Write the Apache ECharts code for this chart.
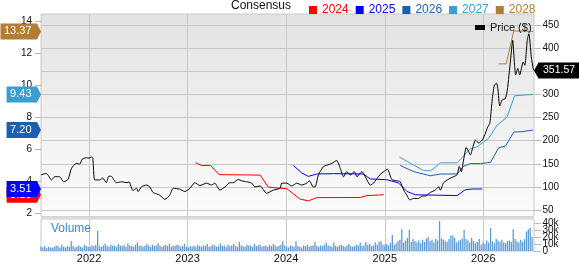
<!DOCTYPE html>
<html><head><meta charset="utf-8">
<script src="https://cdn.jsdelivr.net/npm/echarts@6/dist/echarts.min.js"></script>
<style>html,body{margin:0;padding:0;background:#fff}#c{width:579px;height:264px}</style>
</head><body><div id="c"></div><script>
// ---------- data ----------
const priceDates = ['2021-07-07','2021-07-27','2021-08-15','2021-08-27','2021-09-14','2021-09-29','2021-10-15','2021-10-28','2021-11-15','2021-11-27','2021-12-07','2021-12-22',
'2022-01-01','2022-01-09','2022-01-15','2022-01-22','2022-02-09','2022-02-21','2022-03-06','2022-03-15','2022-03-24','2022-04-12','2022-05-01','2022-05-22','2022-05-29','2022-06-13','2022-06-26','2022-07-02','2022-07-14','2022-08-02','2022-08-14','2022-08-26','2022-09-08','2022-09-20','2022-10-09','2022-10-27','2022-11-09','2022-12-03','2022-12-22',
'2023-01-10','2023-01-28','2023-02-16','2023-03-13','2023-03-31','2023-04-12','2023-05-01','2023-05-20','2023-06-07','2023-06-19','2023-07-08','2023-07-21','2023-08-08','2023-08-27','2023-09-08','2023-09-27','2023-10-21','2023-11-15','2023-12-10','2023-12-16',
'2024-01-04','2024-01-22','2024-02-10','2024-02-28','2024-03-18','2024-03-28','2024-04-11','2024-04-18','2024-04-30','2024-05-19','2024-06-01','2024-06-19','2024-07-07','2024-07-20','2024-08-01','2024-08-13','2024-08-26','2024-09-10','2024-09-20','2024-10-08','2024-10-27','2024-11-08','2024-11-20','2024-12-15','2024-12-28',
'2025-01-11','2025-01-27','2025-02-15','2025-02-27','2025-03-12','2025-03-24','2025-04-03','2025-04-18','2025-05-06','2025-05-19','2025-05-31','2025-06-19','2025-07-07','2025-07-20','2025-07-26','2025-08-07','2025-09-01','2025-09-13','2025-09-26','2025-10-04','2025-10-12','2025-10-20','2025-10-30','2025-11-08','2025-11-14','2025-11-24','2025-12-03','2025-12-15','2025-12-28',
'2026-01-09','2026-01-17','2026-01-25','2026-01-28','2026-02-03','2026-02-11','2026-02-19','2026-02-24','2026-03-03','2026-03-12','2026-03-24','2026-03-31','2026-04-12','2026-04-20','2026-04-27','2026-05-01','2026-05-09','2026-05-16','2026-05-29','2026-06-04','2026-06-13','2026-06-19','2026-06-28','2026-07-05','2026-07-08'];
const priceValues = [126,129,115,122,122,111,116,140,151,149,160,163,
162,165,162,115,115,119,109,123,123,109,111,109,111,92,97,90,100,104,100,88,85,82,73,82,97,95,90,
97,109,103,108,104,108,93,100,109,109,116,113,111,108,100,102,86,93,97,108,
108,102,108,104,108,113,100,100,126,144,147,151,157,140,122,133,126,133,122,133,115,104,108,127,133,
138,116,113,111,93,82,72,75,75,80,80,88,93,100,93,109,119,122,126,144,133,158,185,176,169,187,201,195,201,
216,229,237,250,288,320,324,313,275,288,291,309,374,417,363,342,356,342,370,363,417,431,381,356,351.57];

const eps2024Dates = ['2023-01-31','2023-02-22','2023-03-27','2023-04-28','2023-09-27','2023-10-27','2023-12-03','2024-01-04','2024-02-22','2024-03-24','2024-04-24','2024-10-02','2024-10-27','2024-12-28'];
const eps2024Values = [5.15,4.98,4.98,4.41,4.38,3.63,3.57,3.53,2.88,2.77,2.97,2.98,3.10,3.15];
const eps2025Dates = ['2024-01-28','2024-02-28','2024-03-24','2024-04-24','2024-06-25','2024-10-14','2024-11-08','2025-01-09','2025-02-21','2025-03-24','2025-04-24','2025-09-26','2025-10-26','2025-11-20','2025-12-28'];
const eps2025Values = [4.98,4.52,4.30,4.45,4.47,4.45,4.14,4.09,3.89,3.36,3.15,3.10,3.46,3.51,3.51];
const eps2026Dates = ['2025-02-27','2025-04-18','2025-06-19','2025-07-26','2025-09-26','2025-10-20','2025-11-14','2025-12-21','2026-01-28','2026-02-27','2026-03-24','2026-04-24','2026-05-25','2026-07-05'];
const eps2026Values = [4.98,4.60,4.34,4.45,4.45,4.93,5.10,5.10,5.18,6.09,6.19,7.07,7.10,7.20];
const eps2027Dates = ['2025-02-25','2025-05-25','2025-06-21','2025-07-26','2025-09-26','2025-11-14','2025-12-09','2026-01-21','2026-02-21','2026-03-30','2026-04-27','2026-05-25','2026-07-05'];
const eps2027Values = [5.50,4.66,4.66,5.15,5.15,6.03,6.15,6.68,7.50,8.00,9.34,9.38,9.43];
const eps2028Dates = ['2026-02-27','2026-03-27','2026-04-24','2026-07-05'];
const eps2028Values = [11.34,11.34,13.40,13.37];

const volumeStart = '2021-07-07';
const volumeValues = [ // thousands, weekly
6,5,7,4,6,5,5,6,8,7,5,9,6,5,7,6,14,7,5,6,8,6,5,9,7,6,
6,8,7,9,29,7,6,8,10,7,6,9,8,7,6,10,8,7,9,6,11,8,7,6,9,12,7,8,6,7,10,8,6,9,7,8,11,7,6,8,9,7,10,6,8,7,9,8,6,7,10,6,
5,7,6,8,6,9,7,6,8,7,10,6,7,9,8,6,7,11,7,8,6,9,7,8,10,7,6,13,8,7,6,9,7,8,6,10,7,8,9,6,7,8,6,9,7,10,8,6,7,9,14,8,
6,5,8,7,6,14,7,6,5,8,7,9,6,7,8,13,7,6,8,7,9,12,8,7,6,12,7,6,8,9,7,6,8,10,7,6,7,9,8,12,7,8,13,9,10,7,8,12,9,13,14,9,8,
10,8,12,23,9,11,14,16,31,12,15,19,30,13,17,14,12,15,11,16,13,18,20,14,16,12,17,15,43,18,16,14,13,17,22,22,19,12,14,16,18,30,17,15,12,19,14,11,13,17,9,12,
10,15,12,33,14,11,17,15,13,16,12,11,14,15,13,31,17,14,12,16,13,17,28,31,33,20];

const yearTicks = ['2022-01-01','2023-01-01','2024-01-01','2025-01-01','2026-01-01'];
const epsTicks = [2,4,6,8,10,12,14];
const priceTicks = [50,100,150,200,250,300,350,400,450];
const volumeTicks = [0,10,20,30,40];
const volumeTickLabels = ['0','10k','20k','30k','40k'];

const seriesNames = ['2024','2025','2026','2027','2028'];
const seriesColors = ['#ff0000','#0000ff','#1c5fb0','#3a9fd0','#b27d34'];

// ---------- build ----------
const FONT = 'Liberation Sans, Arial, sans-serif';
const ts = s => Date.parse(s + 'T00:00:00Z');
const zip = (d, v) => d.map((x, i) => [ts(x), v[i]]);
const DAY = 86400000;
const volumeData = volumeValues.map((v, i) => [ts(volumeStart) + 7 * i * DAY, v]);
const epsDates = [eps2024Dates, eps2025Dates, eps2026Dates, eps2027Dates, eps2028Dates];
const epsValues = [eps2024Values, eps2025Values, eps2026Values, eps2027Values, eps2028Values];
const yearTs = yearTicks.map(ts);

const xMin = ts('2021-07-07'), xMax = ts('2026-07-08');
const gridLine = '#c8c8c8';
const axisLabelBase = { fontSize: 10, color: '#111', fontFamily: FONT, hideOverlap: false };

const chart = echarts.init(document.getElementById('c'), null, { renderer: 'canvas' });
const option = {
  animation: false,
  backgroundColor: '#fff',
  grid: [
    { left: 41, right: 45, top: 14, height: 202.5, show: true, borderColor: gridLine, borderWidth: 1,
      backgroundColor: new echarts.graphic.LinearGradient(0, 0, 0, 1, [{ offset: 0, color: '#e3e3e3' }, { offset: 1, color: '#fcfcfc' }]) },
    { left: 41, right: 45, top: 219, bottom: 10.3, show: true, borderColor: gridLine, borderWidth: 1, backgroundColor: '#fff' }
  ],
  xAxis: [
    { type: 'value', gridIndex: 0, min: xMin, max: xMax,
      axisLine: { show: false }, axisLabel: { show: false },
      axisTick: { show: false, customValues: yearTs },
      splitLine: { show: true, lineStyle: { color: gridLine, width: 1 } } },
    { type: 'value', gridIndex: 1, min: xMin, max: xMax,
      axisLine: { show: false },
      axisTick: { show: false, customValues: yearTs },
      axisLabel: { show: true, customValues: yearTs, margin: 2, fontSize: 11, color: '#111', fontFamily: FONT, hideOverlap: false,
        formatter: v => String(new Date(v).getUTCFullYear()) },
      splitLine: { show: true, lineStyle: { color: gridLine, width: 1 } } }
  ],
  yAxis: [
    { type: 'value', gridIndex: 0, position: 'left', min: 1.79, max: 14.46,
      axisLine: { show: false },
      axisTick: { show: true, customValues: epsTicks, length: 6, lineStyle: { color: '#bbb' } },
      axisLabel: Object.assign({ customValues: epsTicks, margin: 9 }, axisLabelBase),
      splitLine: { show: false } },
    { type: 'value', gridIndex: 0, position: 'right', min: 35.95, max: 473.8,
      axisLine: { show: false },
      axisTick: { show: true, customValues: priceTicks, length: 7, lineStyle: { color: '#bbb' } },
      axisLabel: { show: false },
      splitLine: { show: true, lineStyle: { color: gridLine, width: 1 } } },
    { type: 'value', gridIndex: 1, position: 'right', min: 0, max: 45.7,
      axisLine: { show: false },
      axisTick: { show: true, customValues: volumeTicks, length: 7, lineStyle: { color: '#bbb' } },
      axisLabel: { show: false },
      splitLine: { show: false } }
  ],
  legend: [
    { data: seriesNames.map((n, i) => ({ name: n, textStyle: { color: seriesColors[i] } })),
      left: 304, top: -1, icon: 'rect', itemWidth: 8, itemHeight: 8, itemGap: 7, selectedMode: false,
      textStyle: { fontSize: 12, fontFamily: FONT } },
    { data: [{ name: 'Price ($)' }], left: 470, top: 17, icon: 'rect', itemWidth: 10, itemHeight: 5, itemGap: 5, selectedMode: false,
      textStyle: { fontSize: 11, color: '#111', fontFamily: FONT } }
  ],
  series: [
    ...seriesNames.map((n, i) => ({
      name: n, type: 'line', xAxisIndex: 0, yAxisIndex: 0, data: zip(epsDates[i], epsValues[i]),
      showSymbol: false, symbol: 'none', color: seriesColors[i], lineStyle: { width: 1, color: seriesColors[i] }, z: 3
    })),
    { name: 'Price ($)', type: 'line', xAxisIndex: 0, yAxisIndex: 1, data: zip(priceDates, priceValues),
      showSymbol: false, symbol: 'none', color: '#000', lineStyle: { width: 1, color: '#000' }, smooth: 0.2, z: 4 },
    { name: 'Volume', type: 'bar', xAxisIndex: 1, yAxisIndex: 2, data: volumeData,
      barWidth: 1.3, itemStyle: { color: '#5b9bd8' }, z: 2 }
  ]
};
chart.setOption(option);

// labels, tags & decorations positioned via the chart's own scales
const g = [];
g.push({ type: 'text', x: 231, y: 6, style: { text: 'Consensus', font: '12px ' + FONT, fill: '#111', verticalAlign: 'middle' } });
g.push({ type: 'text', x: 51, y: 229, style: { text: 'Volume', font: '12px ' + FONT, fill: '#3b87c9', verticalAlign: 'middle' }, z: 10 });
g.push({ type: 'rect', shape: { x: 41, y: 216.5, width: 493, height: 2.5 }, style: { fill: '#dcdcdc' }, z: 5 });
priceTicks.forEach(v => {
  g.push({ type: 'text', x: 542.5, y: chart.convertToPixel({ yAxisIndex: 1 }, v),
    style: { text: String(v), font: '10px ' + FONT, fill: '#111', verticalAlign: 'middle' }, z: 8 });
});
volumeTicks.forEach((v, i) => {
  g.push({ type: 'text', x: 542.5, y: chart.convertToPixel({ yAxisIndex: 2 }, v),
    style: { text: volumeTickLabels[i], font: '10px ' + FONT, fill: '#111', verticalAlign: 'middle' }, z: 8 });
});
const ctx = document.createElement('canvas').getContext('2d');
ctx.font = '11px ' + FONT;
for (let i = 0; i < seriesNames.length; i++) {
  const v = epsValues[i][epsValues[i].length - 1];
  const y = chart.convertToPixel({ yAxisIndex: 0 }, v);
  const txt = v.toFixed(2);
  const tw = ctx.measureText(txt).width;
  const textRight = 31.5;
  const x0 = Math.max(0, textRight - tw - 3.5);
  g.push({ type: 'polygon', shape: { points: [[x0, y - 8], [37, y - 8], [41, y], [37, y + 8], [x0, y + 8]] },
    style: { fill: seriesColors[i] }, z: 20 + 2 * i });
  g.push({ type: 'text', x: textRight, y: y, style: { text: txt, font: '11px ' + FONT, fill: '#fff', align: 'right', verticalAlign: 'middle' }, z: 21 + 2 * i });
}
{
  const last = priceValues[priceValues.length - 1];
  const y = chart.convertToPixel({ yAxisIndex: 1 }, last);
  g.push({ type: 'polygon', shape: { points: [[534, y], [538.5, y - 8], [580, y - 8], [580, y + 8], [538.5, y + 8]] }, style: { fill: '#000' }, z: 30 });
  g.push({ type: 'text', x: 543, y: y, style: { text: last.toFixed(2), font: '10.5px ' + FONT, fill: '#fff', verticalAlign: 'middle' }, z: 31 });
}
chart.setOption({ graphic: g });
</script></body></html>
